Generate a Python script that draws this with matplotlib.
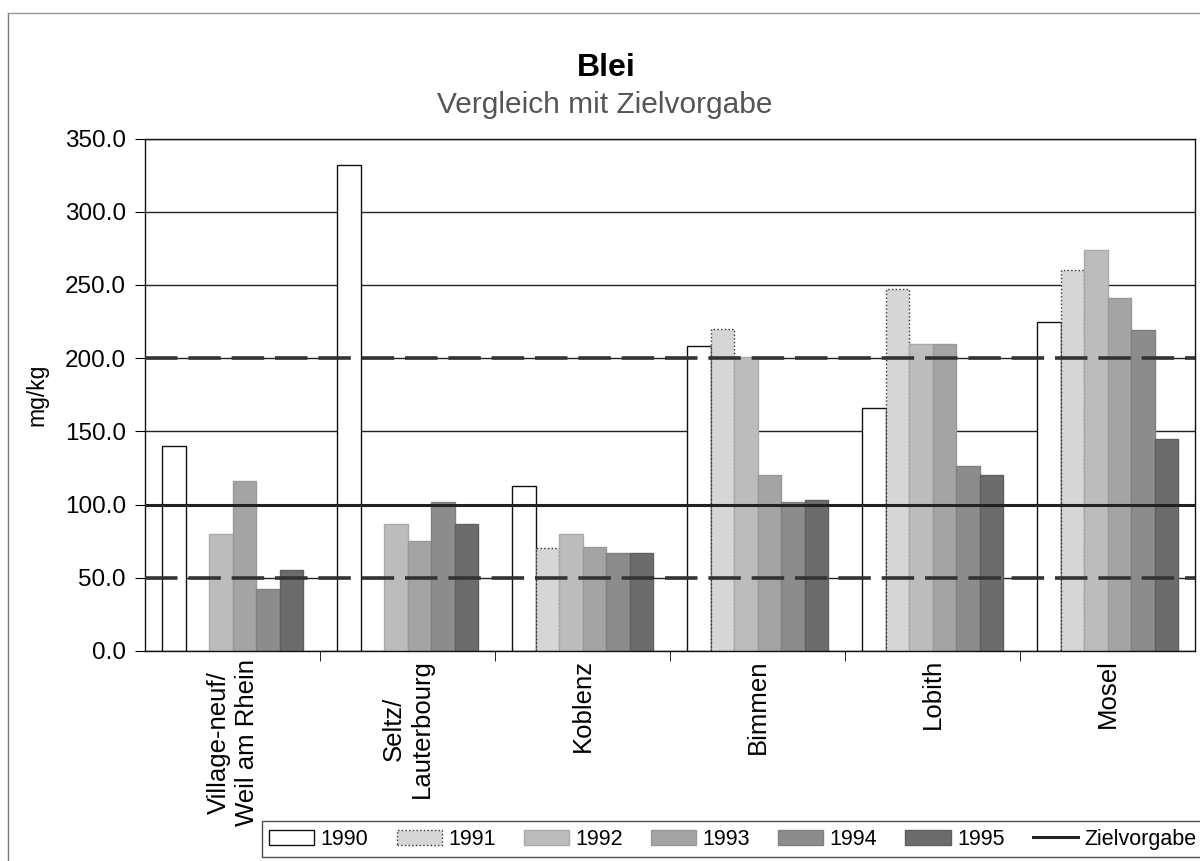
import numpy as np
import matplotlib
matplotlib.use("Agg")
import matplotlib.pyplot as plt
from matplotlib.lines import Line2D

plt.rcParams["font.family"] = ["Liberation Sans", "DejaVu Sans"]

# Categories (measuring stations)
stations = ["Village-neuf/\nWeil am Rhein", "Seltz/\nLauterbourg", "Koblenz",
            "Bimmen", "Lobith", "Mosel"]

# Lead values in mg/kg per year
years = ["1990", "1991", "1992", "1993", "1994", "1995"]
v1990 = [140, 332, 113, 208, 166, 225]
v1991 = [np.nan, np.nan, 70, 220, 247, 260]
v1992 = [80, 87, 80, 201, 210, 274]
v1993 = [116, 75, 71, 120, 210, 241]
v1994 = [42, 102, 67, 102, 126, 219]
v1995 = [55, 87, 67, 103, 120, 145]

# Target value and the dashed band around it
target = 100
band = [50, 200]

yticks = [0, 50, 100, 150, 200, 250, 300, 350]


def plot_lead(series):
    fig = plt.figure(figsize=(12, 8.61), dpi=100)
    ax = fig.add_axes([0.121, 0.244, 0.875, 0.595])

    colors = ["#ffffff", "#d6d6d6", "#bcbcbc", "#a4a4a4", "#8c8c8c", "#6c6c6c"]
    edges = ["#111111", "#333333", "#aaaaaa", "#999999", "#808080", "#606060"]
    styles = ["-", ":", "-", "-", "-", "-"]

    x = np.arange(len(stations))
    w = 0.134
    bars = []
    for i, (year, vals) in enumerate(series):
        b = ax.bar(x + (i - 2.5) * w, vals, width=w, color=colors[i],
                   edgecolor=edges[i], linewidth=1.0, linestyle=styles[i],
                   label=year, zorder=2)
        bars.append(b)

    # target line and dashed limits
    tline = ax.axhline(target, color="#222222", lw=2.2, zorder=3,
                       label="Zielvorgabe")
    for b in band:
        ax.axhline(b, color="#333333", lw=2.6, dashes=(9, 3), zorder=3)

    ax.set_xlim(-0.5, len(stations) - 0.5)
    ax.set_ylim(0, 350)
    ax.set_yticks(yticks)
    ax.set_yticklabels([f"{t:.1f}" for t in yticks], fontsize=17.5)
    ax.yaxis.grid(True, color="#222222", lw=1.0)
    ax.set_axisbelow(True)

    ax.set_xticks(x)
    ax.set_xticklabels(stations, rotation=90, fontsize=18.5,
                       multialignment="center", va="top")
    ax.set_xticks(np.arange(0.5, len(stations) - 0.5), minor=True)
    ax.tick_params(axis="x", which="major", length=0, pad=6)
    ax.tick_params(axis="x", which="minor", length=7, direction="out")
    ax.tick_params(axis="y", length=7, direction="out", pad=7)

    for s in ax.spines.values():
        s.set_color("#111111")
        s.set_linewidth(1.0)

    ax.set_ylabel("mg/kg", fontsize=16.5, labelpad=12)

    fig.text(0.505, 0.921, "Blei", ha="center", va="center",
             fontsize=23, fontweight="bold")
    fig.text(0.504, 0.878, "Vergleich mit Zielvorgabe", ha="center",
             va="center", fontsize=21.5, color="#555555")

    handles = bars + [tline]
    labels = years + ["Zielvorgabe"]
    ax.legend(handles, labels, loc="upper left", bbox_to_anchor=(0.218, 0.046),
              bbox_transform=fig.transFigure, ncol=7, fontsize=15.5,
              frameon=True, fancybox=False, edgecolor="#222222",
              handlelength=2.1, handleheight=0.7, handletextpad=0.3,
              columnspacing=1.3, borderaxespad=0, borderpad=0.35)

    # outer chart border
    fig.add_artist(Line2D([0.007, 0.007], [0.0, 0.985], color="#777777", lw=1))
    fig.add_artist(Line2D([0.007, 1.0], [0.985, 0.985], color="#999999", lw=1))

    return fig


def main():
    series = list(zip(years, [v1990, v1991, v1992, v1993, v1994, v1995]))
    fig = plot_lead(series)
    fig.savefig("out.png", dpi=100)
    print("Saved out.png")


if __name__ == "__main__":
    main()
